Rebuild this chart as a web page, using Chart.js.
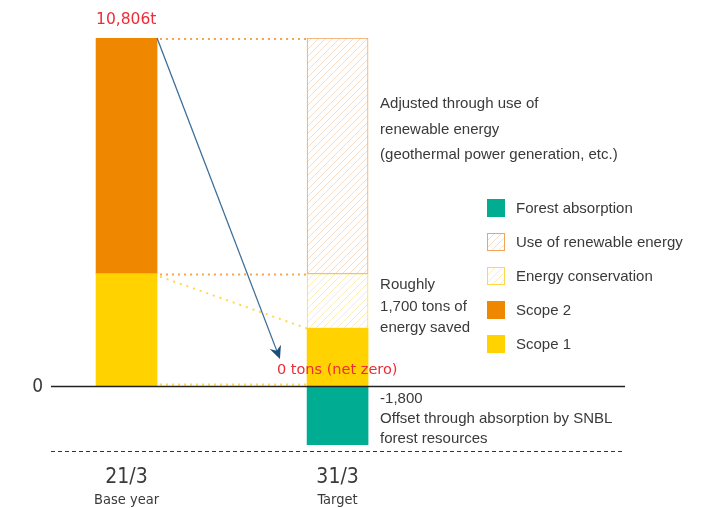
<!DOCTYPE html>
<html>
<head>
<meta charset="utf-8">
<script src="https://cdn.jsdelivr.net/npm/chart.js@4/dist/chart.umd.min.js"></script>
<style>
  html, body { margin: 0; padding: 0; background: #fff; }
  #wrap { width: 719px; height: 508px; position: relative; }
</style>
</head>
<body>
<div id="wrap"><canvas id="c" width="719" height="508"></canvas></div>
<script>
// Emissions path (t-CO2): base year vs. target year
const categories = ['21/3', '31/3'];
const categoryNotes = ['Base year', 'Target'];
const scope1 = [3500, 1800];
const scope2 = [7306, null];
const energyConservation = [null, 1700];
const renewableEnergy = [null, 7306];
const forestAbsorption = [null, -1800];
const baseTotal = 10806;
const axisMin = -2000;

const TEXT = '#3a3a3a';
const RED = '#ee2b36';
const SANS = '"Liberation Sans", Arial, sans-serif';
const NARROW = '"Liberation Sans Narrow", "DejaVu Sans Condensed", "Liberation Sans", sans-serif';

function hatch(line, bg) {
  const s = 7;
  const p = document.createElement('canvas');
  p.width = s; p.height = s;
  const g = p.getContext('2d');
  g.fillStyle = bg; g.fillRect(0, 0, s, s);
  g.strokeStyle = line; g.lineWidth = 1;
  g.beginPath();
  g.moveTo(-1, s + 1); g.lineTo(s + 1, -1);
  g.moveTo(-1, 1); g.lineTo(1, -1);
  g.moveTo(s - 1, s + 1); g.lineTo(s + 1, s - 1);
  g.stroke();
  return document.getElementById('c').getContext('2d').createPattern(p, 'repeat');
}

const toPoints = arr => arr.map((v, i) => ({ x: i, y: v })).filter(p => p.y !== null);

const datasets = [
  { label: 'Scope 1', data: toPoints(scope1), backgroundColor: '#ffd200', borderWidth: 0 },
  { label: 'Scope 2', data: toPoints(scope2), backgroundColor: '#f08700', borderWidth: 0 },
  { label: 'Energy conservation', data: toPoints(energyConservation),
    backgroundColor: hatch('#fcecb8', '#ffffff'), borderColor: '#ffd84a', borderWidth: 1, borderSkipped: false },
  { label: 'Use of renewable energy', data: toPoints(renewableEnergy),
    backgroundColor: hatch('#f9dcc4', '#ffffff'), borderColor: '#f3a35a', borderWidth: 1, borderSkipped: false },
  { label: 'Forest absorption', data: toPoints(forestAbsorption), backgroundColor: '#00ac92', borderWidth: 0 }
];
datasets.forEach(d => { d.barThickness = 61; });

function dotted(ctx, x1, y1, x2, y2, color, dash) {
  ctx.save();
  ctx.strokeStyle = color;
  ctx.lineWidth = 2;
  ctx.setLineDash(dash);
  ctx.beginPath(); ctx.moveTo(x1, y1); ctx.lineTo(x2, y2); ctx.stroke();
  ctx.restore();
}

function textLines(ctx, lines, x, y, step, font, color) {
  ctx.save();
  ctx.font = font; ctx.fillStyle = color;
  ctx.textAlign = 'left'; ctx.textBaseline = 'middle';
  lines.forEach((t, i) => ctx.fillText(t, x, y + i * step));
  ctx.restore();
}

const overlay = {
  id: 'overlay',
  afterDatasetsDraw(chart) {
    const ctx = chart.ctx;
    const xs = chart.scales.x, ys = chart.scales.y, area = chart.chartArea;
    const half = chart.getDatasetMeta(0).data[0].width / 2;
    const baseRight = xs.getPixelForValue(0) + half;
    const targetLeft = xs.getPixelForValue(1) - half;
    const y0 = ys.getPixelForValue(0);
    const yTop = ys.getPixelForValue(baseTotal);
    const yBaseS1 = ys.getPixelForValue(scope1[0]);
    const yTargetS1 = ys.getPixelForValue(scope1[1]);

    // connector lines between the two bars
    dotted(ctx, baseRight + 3, yTop + 1, targetLeft, yTop + 1, '#f5a54a', [2, 4]);
    dotted(ctx, baseRight + 3, yBaseS1 + 1, targetLeft, yBaseS1 + 1, '#f5a54a', [2, 4]);
    dotted(ctx, baseRight + 3, yBaseS1 + 3, targetLeft, yTargetS1, '#ffd84a', [2, 5]);
    dotted(ctx, baseRight + 3, y0 - 2, targetLeft, y0 - 2, '#ffd84a', [2, 4]);

    // zero line and lower dashed rule
    ctx.save();
    ctx.strokeStyle = '#222'; ctx.lineWidth = 1.5;
    ctx.beginPath(); ctx.moveTo(area.left, y0); ctx.lineTo(area.right, y0); ctx.stroke();
    ctx.lineWidth = 1; ctx.strokeStyle = '#333'; ctx.setLineDash([4, 3]);
    const yb = ys.getPixelForValue(axisMin) + 0.5;
    ctx.beginPath(); ctx.moveTo(area.left, yb); ctx.lineTo(area.right, yb); ctx.stroke();
    ctx.restore();

    ctx.save();
    ctx.font = '19px ' + NARROW; ctx.fillStyle = TEXT;
    ctx.textAlign = 'right'; ctx.textBaseline = 'middle';
    ctx.fillText('0', area.left - 8, y0 + 1);
    ctx.restore();

    // arrow from the base-year total down to net zero
    const ax1 = baseRight, ay1 = yTop;
    const ax2 = xs.getPixelForValue(0.727), ay2 = ys.getPixelForValue(850);
    const ang = Math.atan2(ay2 - ay1, ax2 - ax1);
    ctx.save();
    ctx.strokeStyle = '#3b6e9a'; ctx.lineWidth = 1.3;
    ctx.beginPath(); ctx.moveTo(ax1, ay1);
    ctx.lineTo(ax2 - 8 * Math.cos(ang), ay2 - 8 * Math.sin(ang)); ctx.stroke();
    ctx.fillStyle = '#1d4d78';
    ctx.beginPath();
    ctx.moveTo(ax2, ay2);
    ctx.lineTo(ax2 - 13 * Math.cos(ang) + 6 * Math.sin(ang), ay2 - 13 * Math.sin(ang) - 6 * Math.cos(ang));
    ctx.lineTo(ax2 - 9 * Math.cos(ang), ay2 - 9 * Math.sin(ang));
    ctx.lineTo(ax2 - 13 * Math.cos(ang) - 6 * Math.sin(ang), ay2 - 13 * Math.sin(ang) + 6 * Math.cos(ang));
    ctx.closePath(); ctx.fill();
    ctx.restore();

    // value labels
    ctx.save();
    ctx.fillStyle = RED; ctx.textAlign = 'left'; ctx.textBaseline = 'alphabetic';
    ctx.font = '15.5px "DejaVu Sans", sans-serif';
    ctx.fillText(baseTotal.toLocaleString('en-US') + 't', xs.getPixelForValue(0) - half, yTop - 14);
    ctx.font = '14.5px "DejaVu Sans", sans-serif';
    ctx.fillText('0 tons (net zero)', ax2 - 3, y0 - 12);
    ctx.restore();

    // notes beside the target bar
    const nx = targetLeft + 73;
    const noteFont = '15px ' + SANS;
    textLines(ctx, ['Adjusted through use of', 'renewable energy', '(geothermal power generation, etc.)'],
      nx, 104, 25.5, noteFont, TEXT);
    textLines(ctx, ['Roughly', Math.round(energyConservation[1]).toLocaleString('en-US') + ' tons of', 'energy saved'],
      nx, 285, 21.5, noteFont, TEXT);
    textLines(ctx, [forestAbsorption[1].toLocaleString('en-US'), 'Offset through absorption by SNBL', 'forest resources'],
      nx, 399, 20, noteFont, TEXT);

    // legend (top entry = last dataset)
    const lx = 487, ly = 199, step = 34, sz = 18;
    [...chart.data.datasets].reverse().forEach((d, i) => {
      const y = ly + i * step;
      ctx.save();
      ctx.fillStyle = d.backgroundColor;
      ctx.fillRect(lx, y, sz, sz);
      if (d.borderWidth) {
        ctx.strokeStyle = d.borderColor; ctx.lineWidth = 1;
        ctx.strokeRect(lx + 0.5, y + 0.5, sz - 1, sz - 1);
      }
      ctx.restore();
      textLines(ctx, [d.label], lx + 29, y + sz / 2 + 1, 0, noteFont, TEXT);
    });

    // category labels
    categories.forEach((c, i) => {
      const cx = xs.getPixelForValue(i);
      ctx.save();
      ctx.fillStyle = TEXT; ctx.textAlign = 'center'; ctx.textBaseline = 'middle';
      ctx.font = '21px ' + NARROW;
      ctx.fillText(c, cx, 478);
      ctx.font = '14.5px ' + NARROW;
      ctx.fillText(categoryNotes[i], cx, 500);
      ctx.restore();
    });
  }
};

new Chart(document.getElementById('c'), {
  type: 'bar',
  data: { datasets },
  options: {
    responsive: false,
    animation: false,
    layout: { padding: { left: 51, right: 94, top: 38, bottom: 57 } },
    scales: {
      x: { type: 'linear', min: -0.358, max: 2.362, offset: false, stacked: true, display: false },
      y: { min: axisMin, max: baseTotal, stacked: true, display: false }
    },
    plugins: { legend: { display: false }, tooltip: { enabled: false } }
  },
  plugins: [overlay]
});
</script>
</body>
</html>
